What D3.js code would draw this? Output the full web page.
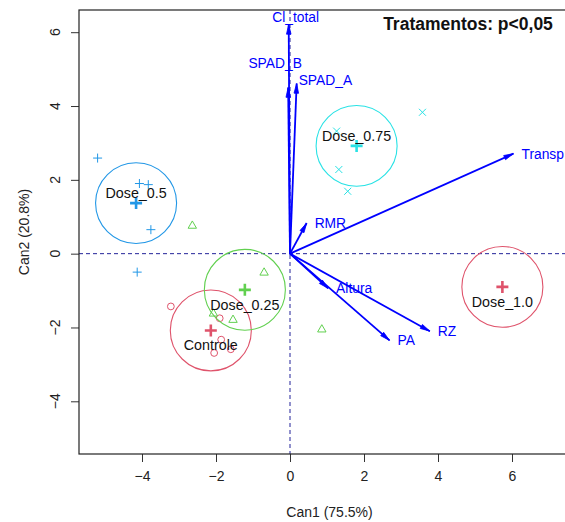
<!DOCTYPE html>
<html>
<head>
<meta charset="utf-8">
<script src="https://cdn.jsdelivr.net/npm/d3@7"></script>
<style>
body { margin: 0; background: #fff; }
text { font-family: "Liberation Sans", Arial, Helvetica, sans-serif; }
</style>
</head>
<body>
<div id="chart"></div>
<script>
const W = 565, H = 522;

// groups, in the order of the candisc output
const groups = ["Controle", "Dose_0.25", "Dose_0.5", "Dose_0.75", "Dose_1.0"];
const groupColors = ["#DF536B", "#61D04F", "#2297E6", "#28E2E5", "#DF536B"];
const groupShapes = ["circle", "triangle", "plus", "cross", "none"];
const centroidX = [-2.14, -1.22, -4.16, 1.80, 5.74];
const centroidY = [-2.08, -0.98, 1.37, 2.92, -0.90];

// canonical scores of the observations
const obsGroup = [0, 0, 0, 0, 0, 1, 1, 1, 1, 1, 2, 2, 2, 2, 2, 3, 3, 3, 3];
const obsX = [-3.22, -1.90, -1.86, -2.05, -1.60, -2.64, -0.70, -2.07, -1.54, 0.86,
              -5.20, -4.07, -3.83, -3.76, -4.13, 3.58, 1.26, 1.32, 1.56];
const obsY = [-1.43, -1.75, -2.33, -2.69, -2.59, 0.77, -0.50, -1.61, -1.78, -2.04,
              2.59, 1.90, 1.87, 0.65, -0.50, 3.83, 3.32, 2.28, 1.69];

// structure coefficients (scaled)
const varNames = ["Cl_total", "SPAD_B", "SPAD_A", "RMR", "Transp", "Altura", "PA", "RZ"];
const varX = [-0.035, -0.05, 0.18, 0.45, 6.04, 1.03, 2.69, 3.78];
const varY = [6.21, 4.50, 4.61, 0.83, 2.71, -0.94, -2.35, -2.10];

const xTicks = [-4, -2, 0, 2, 4, 6];
const yTicks = [-4, -2, 0, 2, 4, 6];
const circleRadius = 1.095; // sqrt(qchisq(.95, 2) / 5)
const titleText = "Tratamentos: p<0,05";

const box = { left: 79, top: 10, right: 580, bottom: 454 };

const x = d3.scaleLinear().domain([-4, 6]).range([142, 512]);
const y = d3.scaleLinear().domain([-4, 6]).range([401.3, 32.2]);

const svg = d3.select("#chart").append("svg")
    .attr("width", W).attr("height", H);

// reference lines through the origin
svg.append("line")
    .attr("x1", box.left).attr("x2", box.right)
    .attr("y1", y(0)).attr("y2", y(0))
    .attr("stroke", "#23239a").attr("stroke-dasharray", "4,3");
svg.append("line")
    .attr("x1", x(0)).attr("x2", x(0))
    .attr("y1", box.top).attr("y2", box.bottom)
    .attr("stroke", "#23239a").attr("stroke-dasharray", "4,3");

// axes
let xAxis = svg.append("g")
    .attr("transform", `translate(0,${box.bottom})`)
    .call(d3.axisBottom(x).tickValues(xTicks).tickSize(8).tickPadding(9));
xAxis.select(".domain").remove();
xAxis.selectAll("text").attr("font-size", 14).attr("fill", "#222")
    .attr("font-family", "Liberation Sans, Arial, sans-serif");
xAxis.selectAll("line").attr("stroke", "#333");

let yAxis = svg.append("g")
    .attr("transform", `translate(${box.left},0)`)
    .call(d3.axisLeft(y).tickValues(yTicks).tickSize(8).tickFormat(""));
yAxis.select(".domain").remove();
yAxis.selectAll("line").attr("stroke", "#333");

svg.selectAll(".ylab").data(yTicks).enter().append("text")
    .attr("class", "ylab")
    .attr("transform", d => `translate(60,${y(d)}) rotate(-90)`)
    .attr("text-anchor", "middle")
    .attr("font-size", 14).attr("fill", "#222")
    .text(d => String(d).replace("-", "\u2212"));

svg.append("rect")
    .attr("x", box.left).attr("y", box.top)
    .attr("width", box.right - box.left).attr("height", box.bottom - box.top)
    .attr("fill", "none").attr("stroke", "#222").attr("stroke-width", 1.2);

svg.append("text")
    .attr("x", (box.left + box.right) / 2).attr("y", 517)
    .attr("text-anchor", "middle").attr("font-size", 14).attr("fill", "#222")
    .text("Can1 (75.5%)");
svg.append("text")
    .attr("transform", `translate(29,${(box.top + box.bottom) / 2}) rotate(-90)`)
    .attr("text-anchor", "middle").attr("font-size", 14).attr("fill", "#222")
    .text("Can2 (20.8%)");

// observations
let obs = obsX.map((v, i) => ({ x: v, y: obsY[i], g: obsGroup[i] }));
let pts = svg.append("g").selectAll("g").data(obs).enter().append("g")
    .attr("transform", d => `translate(${x(d.x)},${y(d.y)})`)
    .attr("stroke", d => groupColors[d.g]).attr("fill", "none").attr("stroke-width", 1);
pts.each(function(d) {
    let g = d3.select(this);
    let shape = groupShapes[d.g];
    if (shape === "circle") {
        g.append("circle").attr("r", 3.4);
    } else if (shape === "triangle") {
        g.append("path").attr("d", "M0,-4.3L4.2,3L-4.2,3Z");
    } else if (shape === "plus") {
        g.append("path").attr("d", "M-4.5,0H4.5M0,-4.5V4.5");
    } else if (shape === "cross") {
        g.append("path").attr("d", "M-3.5,-3.5L3.5,3.5M-3.5,3.5L3.5,-3.5");
    }
});

// confidence circles for the group means
svg.append("g").selectAll("ellipse").data(groups).enter().append("ellipse")
    .attr("cx", (d, i) => x(centroidX[i]))
    .attr("cy", (d, i) => y(centroidY[i]))
    .attr("rx", x(circleRadius) - x(0))
    .attr("ry", y(0) - y(circleRadius))
    .attr("fill", "none")
    .attr("stroke", (d, i) => groupColors[i])
    .attr("stroke-width", 1.1);

// group means
svg.append("g").selectAll("path").data(groups).enter().append("path")
    .attr("d", (d, i) => {
        let cx = x(centroidX[i]), cy = y(centroidY[i]);
        return `M${cx - 6},${cy}H${cx + 6}M${cx},${cy - 6}V${cy + 6}`;
    })
    .attr("stroke", (d, i) => groupColors[i])
    .attr("stroke-width", 2.6);

svg.append("g").selectAll("text").data(groups).enter().append("text")
    .attr("x", (d, i) => x(centroidX[i]))
    .attr("y", (d, i) => y(centroidY[i]) + (centroidY[i] > 0 ? -5 : 20))
    .attr("text-anchor", "middle")
    .attr("font-size", 14.3).attr("fill", "#111")
    .text(d => d);

// variable vectors
const nudge = {
    "Cl_total": [7, -2, "middle"],
    "SPAD_B": [-13, -20, "middle"],
    "SPAD_A": [2, 1, "start"]
};
let vars = varNames.map((n, i) => ({ name: n, x: varX[i], y: varY[i] }));
let vg = svg.append("g");
vg.selectAll("line").data(vars).enter().append("line")
    .attr("x1", x(0)).attr("y1", y(0))
    .attr("x2", d => x(d.x)).attr("y2", d => y(d.y))
    .attr("stroke", "#0000FF").attr("stroke-width", 1.8);
vg.selectAll("path").data(vars).enter().append("path")
    .attr("d", d => {
        let tx = x(d.x), ty = y(d.y);
        let a = Math.atan2(ty - y(0), tx - x(0));
        let len = 10, w = 0.23;
        let p1 = [tx - len * Math.cos(a - w), ty - len * Math.sin(a - w)];
        let p2 = [tx - len * Math.cos(a + w), ty - len * Math.sin(a + w)];
        return `M${tx},${ty}L${p1[0]},${p1[1]}L${p2[0]},${p2[1]}Z`;
    })
    .attr("fill", "#0000FF").attr("stroke", "#0000FF").attr("stroke-width", 0.8);
vg.selectAll("text").data(vars).enter().append("text")
    .attr("x", d => x(d.x) + (nudge[d.name] ? nudge[d.name][0] : 8))
    .attr("y", d => y(d.y) + (nudge[d.name] ? nudge[d.name][1] : 5))
    .attr("text-anchor", d => nudge[d.name] ? nudge[d.name][2] : "start")
    .attr("font-size", 13.8).attr("fill", "#0000FF")
    .text(d => d.name);

// title
svg.append("text")
    .attr("x", 468).attr("y", 30)
    .attr("text-anchor", "middle")
    .attr("font-size", 17.5).attr("font-weight", "bold").attr("fill", "#111")
    .text(titleText);
</script>
</body>
</html>
